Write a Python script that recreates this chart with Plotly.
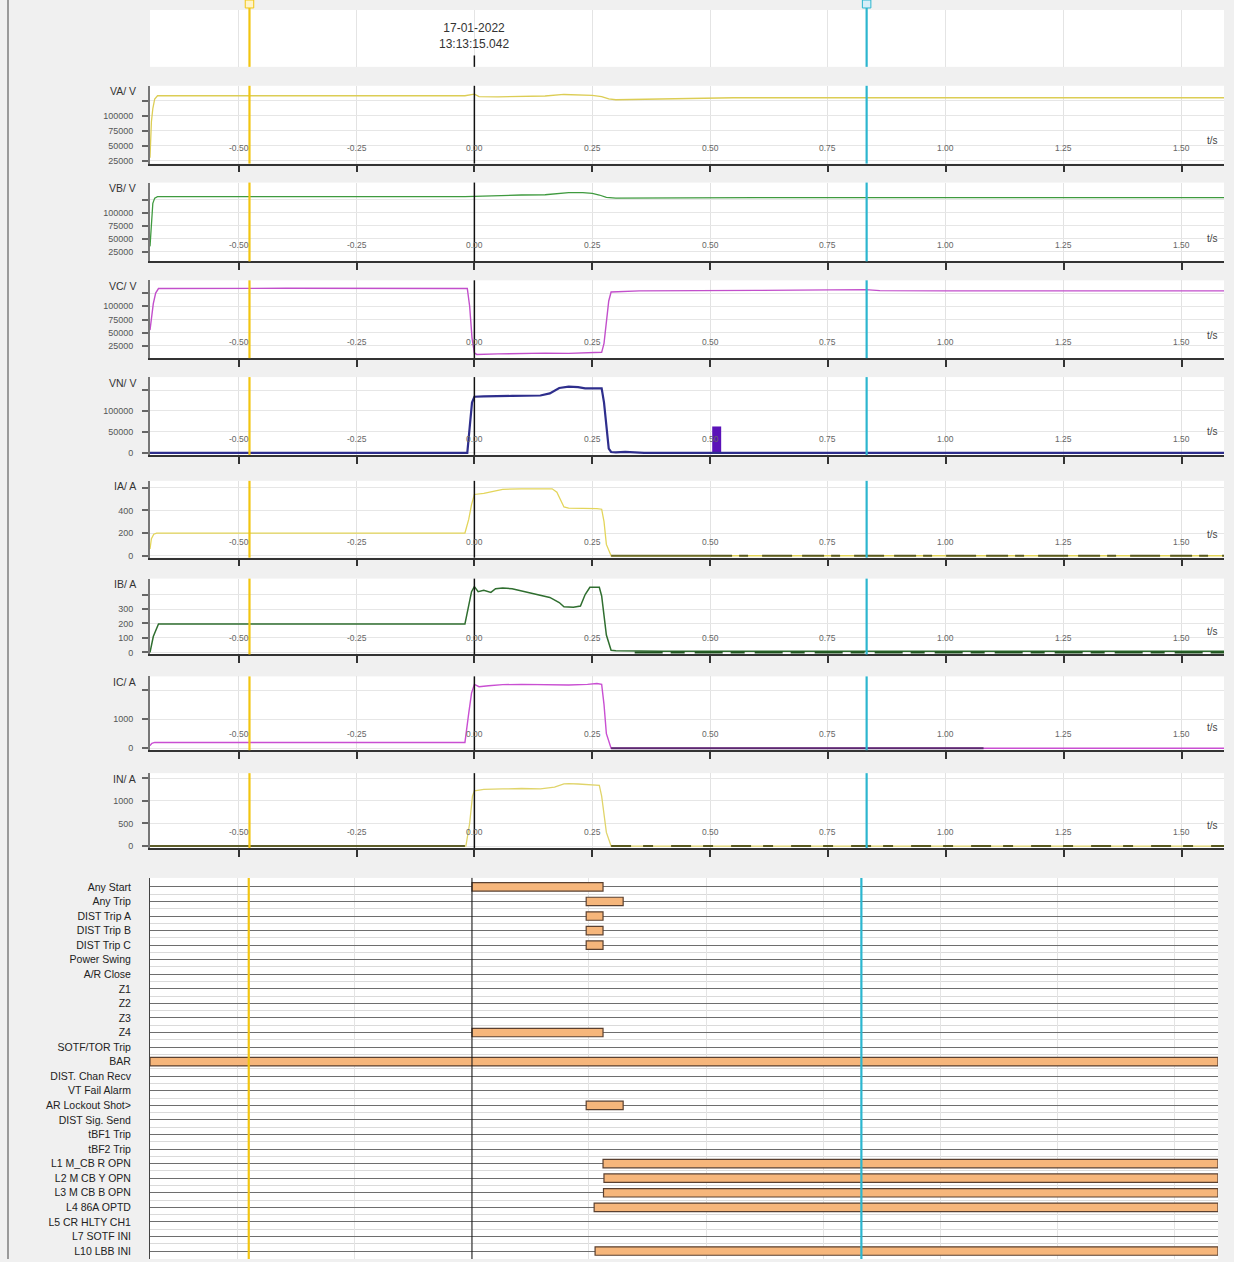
import plotly.graph_objects as go

W, H = 1234, 1262

# ---------------- data ----------------
x_tick_vals = [-0.50, -0.25, 0.00, 0.25, 0.50, 0.75, 1.00, 1.25, 1.50]
x_tick_text = ["-0.50", "-0.25", "0.00", "0.25", "0.50", "0.75", "1.00", "1.25", "1.50"]
analog_x_range = [-0.688, 1.590]
digital_x_range = [-0.688, 1.594]

cursor_times = [-0.477, 0.0, 0.832]
trigger_date = "17-01-2022"
trigger_time = "13:13:15.042"

va_t = [-0.688, -0.685, -0.682, -0.678, -0.672, -0.60, -0.30, -0.02, 0.0, 0.01, 0.05, 0.10, 0.15, 0.19, 0.22, 0.25, 0.27, 0.285, 0.30, 0.35, 0.45, 0.55, 1.59]
va_v = [30000, 90000, 112000, 128000, 133400, 133400, 133400, 133400, 136000, 132000, 131500, 132000, 133000, 135500, 135000, 134000, 132000, 128000, 126700, 127500, 129000, 130000, 130000]

vb_t = [-0.688, -0.685, -0.682, -0.678, -0.672, -0.02, 0.0, 0.05, 0.10, 0.15, 0.18, 0.20, 0.23, 0.25, 0.265, 0.28, 0.30, 0.40, 0.60, 1.59]
vb_v = [35000, 85000, 118000, 128000, 130800, 130800, 131500, 132000, 134000, 134500, 136500, 138500, 138500, 137000, 134000, 129500, 128000, 128500, 129000, 129000]

vc_t = [-0.688, -0.685, -0.681, -0.676, -0.670, -0.40, -0.10, -0.015, -0.010, -0.005, 0.0, 0.005, 0.05, 0.10, 0.15, 0.20, 0.25, 0.27, 0.275, 0.28, 0.285, 0.29, 0.35, 0.60, 0.83, 0.86, 1.0, 1.59]
vc_v = [55000, 75000, 105000, 125000, 133500, 134000, 134000, 133500, 100000, 40000, 12000, 9000, 10000, 11000, 11500, 11000, 12500, 13000, 30000, 70000, 110000, 127000, 129000, 130000, 131500, 129500, 129000, 129000]

vn_t = [-0.688, -0.015, -0.010, -0.005, 0.0, 0.02, 0.08, 0.14, 0.16, 0.18, 0.20, 0.22, 0.235, 0.27, 0.275, 0.28, 0.285, 0.29, 0.30, 0.32, 0.34, 0.36, 1.59]
vn_v = [0, 0, 60000, 120000, 134000, 135000, 136000, 137000, 142000, 155000, 158000, 157000, 154000, 154000, 120000, 60000, 10000, 2000, 1000, 2500, 1500, 0, 0]
vn_pulse_t = [0.514]
vn_pulse_v = [63000]
vn_pulse_w = [0.019]

ia_t = [-0.688, -0.685, -0.680, -0.674, -0.02, -0.012, -0.006, 0.0, 0.02, 0.04, 0.06, 0.10, 0.14, 0.165, 0.175, 0.18, 0.185, 0.19, 0.20, 0.24, 0.26, 0.27, 0.275, 0.28, 0.29, 1.59]
ia_v = [60, 150, 190, 200, 200, 320, 450, 540, 550, 565, 585, 590, 592, 590, 560, 520, 470, 430, 420, 420, 415, 410, 300, 100, 0, 0]
ia_zero_t = [0.29, 0.50]
ia_zero_v = [0, 0]
ia_noise_t = [0.50, 1.59]
ia_noise_v = [0, 0]

ib_t = [-0.688, -0.685, -0.681, -0.676, -0.670, -0.02, -0.012, -0.006, 0.0, 0.008, 0.02, 0.035, 0.045, 0.06, 0.08, 0.10, 0.12, 0.14, 0.16, 0.18, 0.19, 0.21, 0.225, 0.235, 0.245, 0.265, 0.27, 0.28, 0.29, 0.30, 0.40, 1.59]
ib_v = [0, 40, 110, 150, 197, 197, 330, 420, 455, 420, 430, 415, 440, 445, 440, 425, 410, 395, 380, 345, 315, 312, 320, 400, 450, 450, 390, 120, 15, 12, 8, 8]
ib_noise_t = [0.34, 1.59]
ib_noise_v = [0, 0]

ic_t = [-0.688, -0.684, -0.678, -0.02, -0.012, -0.006, 0.0, 0.01, 0.03, 0.06, 0.10, 0.15, 0.20, 0.24, 0.26, 0.27, 0.275, 0.28, 0.29, 1.59]
ic_v = [90, 170, 200, 200, 1200, 1900, 2200, 2120, 2150, 2190, 2200, 2190, 2180, 2200, 2230, 2200, 1500, 500, 0, 0]
ic_zero_t = [0.29, 1.08]
ic_zero_v = [0, 0]

in_t = [-0.688, -0.018, -0.010, -0.004, 0.0, 0.02, 0.06, 0.10, 0.14, 0.17, 0.19, 0.20, 0.22, 0.25, 0.265, 0.27, 0.28, 0.29, 1.59]
in_v = [0, 0, 500, 1100, 1220, 1250, 1260, 1270, 1260, 1300, 1370, 1380, 1370, 1350, 1340, 1100, 300, 0, 0]
in_pre_t = [-0.688, -0.02]
in_pre_v = [0, 0]
in_noise_t = [0.29, 1.59]
in_noise_v = [0, 0]

digital_names = ["Any Start", "Any Trip", "DIST Trip A", "DIST Trip B", "DIST Trip C",
                 "Power Swing", "A/R Close", "Z1", "Z2", "Z3", "Z4", "SOTF/TOR Trip", "BAR",
                 "DIST. Chan Recv", "VT Fail Alarm", "AR Lockout Shot&gt;", "DIST Sig. Send",
                 "tBF1 Trip", "tBF2 Trip", "L1 M_CB R OPN", "L2 M CB Y OPN", "L3 M CB B OPN",
                 "L4 86A OPTD", "L5 CR HLTY CH1", "L7 SOTF INI", "L10 LBB INI"]
dig_event_names = ["Any Start", "Any Trip", "DIST Trip A", "DIST Trip B", "DIST Trip C", "Z4",
                   "BAR", "AR Lockout Shot&gt;", "L1 M_CB R OPN", "L2 M CB Y OPN",
                   "L3 M CB B OPN", "L4 86A OPTD", "L10 LBB INI"]
dig_event_start = [0.0, 0.244, 0.244, 0.244, 0.244, 0.0, -0.688, 0.244, 0.280, 0.282, 0.281, 0.261, 0.263]
dig_event_end = [0.280, 0.323, 0.280, 0.280, 0.280, 0.280, 1.594, 0.323, 1.594, 1.594, 1.594, 1.594, 1.594]

# analog channel table
ch_labels = ["VA/ V", "VB/ V", "VC/ V", "VN/ V", "IA/ A", "IB/ A", "IC/ A", "IN/ A"]
ch_t = [va_t, vb_t, vc_t, vn_t, ia_t, ib_t, ic_t, in_t]
ch_v = [va_v, vb_v, vc_v, vn_v, ia_v, ib_v, ic_v, in_v]
ch_yrange = [[20000, 150000], [6000, 158000], [2000, 149000], [-5000, 181000],
             [-17, 660], [-14, 510], [-68, 2475], [-43, 1609]]
v_ticks = [25000, 50000, 75000, 100000, 125000]
v_text = ["25000", "50000", "75000", "100000", ""]
ch_ytick_vals = [v_ticks, v_ticks, v_ticks, [0, 50000, 100000, 150000],
                 [0, 200, 400, 600], [0, 100, 200, 300, 400], [0, 1000, 2000], [0, 500, 1000, 1500]]
ch_ytick_text = [v_text, v_text, v_text, ["0", "50000", "100000", ""],
                 ["0", "200", "400", ""], ["0", "100", "200", "300", ""], ["0", "1000", ""],
                 ["0", "500", "1000", ""]]

# ---------------- styling / layout ----------------
FONT = "Liberation Sans, Arial, sans-serif"
ch_colors = ["#dccd55", "#3f9a3f", "#c24fcb", "#2e2e8c", "#e3d55a", "#2f6e2f", "#c94fd2", "#e0d46a"]
ch_widths = [1.3, 1.3, 1.4, 2.2, 1.3, 1.5, 1.4, 1.3]
ch_px = [(86, 164), (183, 262), (281, 359), (378, 456), (482, 559), (580, 656), (678, 752), (775, 850)]
hdr_px = (10, 67)
dig_px = (880, 1262)
cursor_colors = ["#f2c511", "#111111", "#2cb6cf"]
cursor_widths = [2.2, 1.5, 2.2]


def ydom(top, bottom):
    return [1 - bottom / H, 1 - top / H]


analog_xdom = [150 / W, 1224 / W]
digital_xdom = [150 / W, 1218 / W]

fig = go.Figure()
layout = dict(
    width=W, height=H, margin=dict(l=0, r=0, t=0, b=0),
    paper_bgcolor="#f0f0f0", plot_bgcolor="white", showlegend=False,
    font=dict(family=FONT, color="#333"),
)
shapes = []
annotations = []

# header panel (axis 1)
layout["xaxis"] = dict(domain=analog_xdom, range=analog_x_range, anchor="y",
                       tickvals=x_tick_vals, showticklabels=False, ticks="",
                       showgrid=True, gridcolor="#e4e4e4", zeroline=False, showline=False)
layout["yaxis"] = dict(domain=ydom(*hdr_px), range=[0, 1], anchor="x", visible=False)
fig.add_trace(go.Scatter(x=[0.0], y=[-1], mode="markers",
                         marker=dict(opacity=0), xaxis="x", yaxis="y", hoverinfo="skip"))
annotations.append(dict(xref="x", yref="y domain", x=0.0, y=0.54, showarrow=False,
                        text=trigger_date + "<br>" + trigger_time,
                        font=dict(size=12, color="#333", family=FONT), align="center"))
for t, c, w in zip(cursor_times, cursor_colors, cursor_widths):
    top = 1.0 if t != 0.0 else 0.2
    shapes.append(dict(type="line", xref="x", yref="y domain", x0=t, x1=t, y0=0, y1=top,
                       line=dict(color=c, width=w)))
    if t != 0.0:
        shapes.append(dict(type="line", xref="x", yref="paper", x0=t, x1=t,
                           y0=1 - hdr_px[0] / H, y1=1, line=dict(color=c, width=w)))
        shapes.append(dict(type="rect", xref="x", yref="paper", x0=t - 0.009, x1=t + 0.009,
                           y0=1 - 8 / H, y1=1, fillcolor="#fff4c8" if c == "#f2c511" else "#d7eef8",
                           line=dict(color=c, width=1)))

# analog panels (axes 2..9)
for k in range(8):
    i = k + 2
    xa, ya = f"x{i}", f"y{i}"
    top, bottom = ch_px[k]
    hpx = bottom - top
    layout[f"xaxis{i}"] = dict(
        domain=analog_xdom, range=analog_x_range, anchor=ya,
        tickvals=x_tick_vals, showticklabels=False,
        ticks="outside", ticklen=7, tickwidth=1.5, tickcolor="#333",
        showline=True, linecolor="#333", linewidth=1.5,
        showgrid=True, gridcolor="#e2e2e2", zeroline=False)
    layout[f"yaxis{i}"] = dict(
        domain=ydom(top, bottom), range=ch_yrange[k], anchor=xa,
        tickvals=ch_ytick_vals[k], ticktext=ch_ytick_text[k],
        ticks="outside", ticklen=6, tickwidth=1.5, tickcolor="#666",
        ticklabelstandoff=7,
        tickfont=dict(size=9, color="#555", family=FONT),
        showline=True, linecolor="#777", linewidth=2,
        showgrid=True, gridcolor="#e6e6e6", zeroline=False)
    fig.add_trace(go.Scatter(x=ch_t[k], y=ch_v[k], mode="lines",
                             line=dict(color=ch_colors[k], width=ch_widths[k]),
                             xaxis=xa, yaxis=ya, hoverinfo="skip"))
    annotations.append(dict(xref=f"{xa} domain", yref=f"{ya} domain", x=-0.011,
                            y=1 - 5.5 / hpx, xanchor="right", yanchor="middle",
                            text=ch_labels[k], showarrow=False,
                            font=dict(size=10.5, color="#333", family=FONT)))
    annotations.append(dict(xref=f"{xa} domain", yref=f"{ya} domain", x=0.989,
                            y=23 / hpx, xanchor="center", yanchor="middle",
                            text="t/s", showarrow=False,
                            font=dict(size=10, color="#444", family=FONT)))
    for tv, tt in zip(x_tick_vals, x_tick_text):
        annotations.append(dict(xref=xa, yref=f"{ya} domain", x=tv, y=16 / hpx,
                                xanchor="center", yanchor="middle", text=tt, showarrow=False,
                                font=dict(size=8.5, color="#666", family=FONT)))
    for t, c, w in zip(cursor_times, cursor_colors, cursor_widths):
        shapes.append(dict(type="line", xref=xa, yref=f"{ya} domain", x0=t, x1=t,
                           y0=0, y1=1, line=dict(color=c, width=w)))

# extra overlays on analog panels
fig.add_trace(go.Bar(x=vn_pulse_t, y=vn_pulse_v, width=vn_pulse_w, marker=dict(color="#5a12b8", line=dict(width=0)),
                     xaxis="x5", yaxis="y5", hoverinfo="skip"))
fig.add_trace(go.Scatter(x=ia_zero_t, y=ia_zero_v, mode="lines",
                         line=dict(color="#6b6b2a", width=1.8),
                         xaxis="x6", yaxis="y6", hoverinfo="skip"))
fig.add_trace(go.Scatter(x=ia_noise_t, y=ia_noise_v, mode="lines",
                         line=dict(color="#5a5a1e", width=2, dash="22px,7px,9px,14px,30px,10px"),
                         xaxis="x6", yaxis="y6", hoverinfo="skip"))
fig.add_trace(go.Scatter(x=ib_noise_t, y=ib_noise_v, mode="lines",
                         line=dict(color="#1f531f", width=2, dash="28px,8px,14px,10px"),
                         xaxis="x7", yaxis="y7", hoverinfo="skip"))
fig.add_trace(go.Scatter(x=ic_zero_t, y=ic_zero_v, mode="lines",
                         line=dict(color="#5a2a6e", width=2),
                         xaxis="x8", yaxis="y8", hoverinfo="skip"))
fig.add_trace(go.Scatter(x=in_pre_t, y=in_pre_v, mode="lines",
                         line=dict(color="#5e5e2a", width=2),
                         xaxis="x9", yaxis="y9", hoverinfo="skip"))
fig.add_trace(go.Scatter(x=in_noise_t, y=in_noise_v, mode="lines",
                         line=dict(color="#5a5a1e", width=2, dash="20px,12px,10px,18px"),
                         xaxis="x9", yaxis="y9", hoverinfo="skip"))

# digital panel (axis 10)
n_rows = len(digital_names)
row_idx = list(range(n_rows))
top, bottom = dig_px
row_h = 14.6
layout["xaxis10"] = dict(domain=digital_xdom, range=digital_x_range, anchor="y10",
                         tickvals=x_tick_vals, showticklabels=False, ticks="",
                         showgrid=True, gridcolor="#e4e4e4", zeroline=False, showline=False)
layout["yaxis10"] = dict(domain=ydom(top, bottom),
                         range=[(bottom - 889) / row_h, -(889 - top) / row_h], anchor="x10",
                         tickvals=row_idx, ticktext=digital_names, ticks="",
                         ticklabelstandoff=16,
                         tickfont=dict(size=10.5, color="#222", family=FONT),
                         showgrid=True, gridcolor="#6e6e6e", gridwidth=1.3,
                         minor=dict(tickvals=[r + 0.5 for r in row_idx], showgrid=True,
                                    gridcolor="#dadada", gridwidth=1),
                         showline=True, linecolor="#444", linewidth=1, zeroline=False)
fig.add_trace(go.Bar(
    y=[digital_names.index(n) for n in dig_event_names],
    x=[e - s for s, e in zip(dig_event_start, dig_event_end)],
    base=dig_event_start, orientation="h", width=0.58,
    marker=dict(color="#f6b67b", line=dict(color="#5a4030", width=1.2)),
    xaxis="x10", yaxis="y10", hoverinfo="skip"))
for t, c, w in zip(cursor_times, cursor_colors, cursor_widths):
    shapes.append(dict(type="line", xref="x10", yref="y10 domain", x0=t, x1=t,
                       y0=0, y1=1, line=dict(color=c, width=w if c != "#111111" else 1)))

# window border on left
shapes.append(dict(type="line", xref="paper", yref="paper", x0=8 / W, x1=8 / W, y0=0, y1=1,
                   line=dict(color="#9a9a9a", width=2)))

layout["shapes"] = shapes
layout["annotations"] = annotations
fig.update_layout(**layout)
fig.write_html("out.html", config={"displayModeBar": False},
               post_script="document.body.style.margin='0px';document.body.style.overflow='hidden';")
